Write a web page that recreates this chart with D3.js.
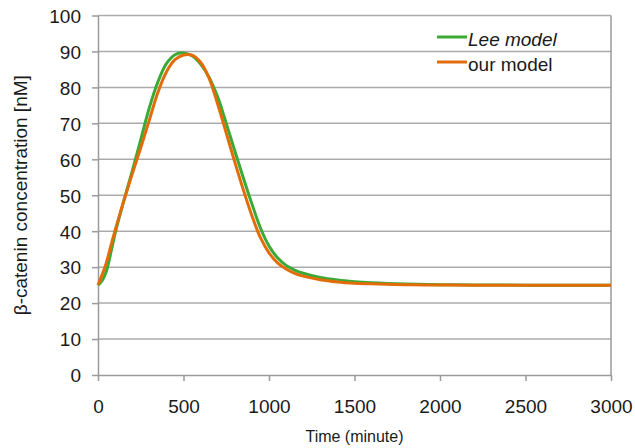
<!DOCTYPE html>
<html>
<head>
<meta charset="utf-8">
<script src="https://cdn.jsdelivr.net/npm/d3@7"></script>
<style>
  body { margin: 0; background: #fff; }
  svg { display: block; font-family: 'Liberation Sans', Arial, sans-serif; }
</style>
</head>
<body>
<div id="viz"></div>
<script>
const width = 635;
const height = 448;
const margin = {top: 15.5, right: 24, bottom: 73, left: 98};

// Data
const times = [0, 25, 50, 75, 100, 150, 200, 250, 300, 350, 400, 450, 500, 550, 600, 650, 700, 750, 800,
  850, 900, 950, 1000, 1050, 1100, 1150, 1200, 1300, 1400, 1500, 1600, 1800, 2000, 2200, 2500, 3000];
const leeModel = [25.0, 26.3, 29.0, 34.0, 39.4, 48.3, 56.7, 65.5, 74.3, 81.5, 86.6, 89.1, 89.6, 88.8, 86.5,
  82.8, 77.3, 70.0, 62.3, 54.8, 47.6, 40.9, 35.9, 32.6, 30.5, 29.2, 28.3, 27.1, 26.4, 25.95, 25.65, 25.3, 25.12, 25.05, 25.0, 25.0];
const ourModel = [25.0, 28.0, 31.4, 35.9, 40.2, 48.3, 55.9, 63.2, 70.9, 78.6, 84.3, 87.7, 89.0, 89.0, 87.0,
  82.5, 75.3, 67.3, 59.2, 51.5, 44.3, 38.2, 34.0, 31.2, 29.5, 28.3, 27.5, 26.5, 25.9, 25.55, 25.35, 25.12, 25.04, 25.0, 25.0, 25.0];
const xTicks = [0, 500, 1000, 1500, 2000, 2500, 3000];
const yTicks = [0, 10, 20, 30, 40, 50, 60, 70, 80, 90, 100];

const series = [
  {name: 'Lee model', values: leeModel, color: '#3aaa35', italic: true},
  {name: 'our model', values: ourModel, color: '#e36c0a', italic: false}
];

const svg = d3.select('#viz')
  .append('svg')
    .attr('width', width)
    .attr('height', height);

const xScale = d3.scaleLinear()
  .domain([0, 3000])
  .range([margin.left, width - margin.right]);
const yScale = d3.scaleLinear()
  .domain([0, 100])
  .range([height - margin.bottom, margin.top]);

// Gridlines
svg.append('g')
    .attr('class', 'grid')
  .selectAll('line')
  .data(yTicks.filter(d => d > 0))
  .join('line')
    .attr('x1', margin.left)
    .attr('x2', width - margin.right)
    .attr('y1', d => yScale(d))
    .attr('y2', d => yScale(d))
    .attr('stroke', '#ababab')
    .attr('stroke-width', 1.5);

// Right border of plot area
svg.append('line')
  .attr('x1', width - margin.right)
  .attr('x2', width - margin.right)
  .attr('y1', margin.top)
  .attr('y2', height - margin.bottom)
  .attr('stroke', '#9a9a9a')
  .attr('stroke-width', 1.5);

// Axes
const xAxis = d3.axisBottom(xScale)
  .tickValues(xTicks)
  .tickFormat(d3.format('d'))
  .tickSize(6)
  .tickPadding(19)
  .tickSizeOuter(0);
const xAxisGroup = svg.append('g')
    .attr('transform', `translate(0, ${height - margin.bottom})`)
    .style('font-size', '19px')
  .call(xAxis);

const yAxis = d3.axisLeft(yScale)
  .tickValues(yTicks)
  .tickSize(6)
  .tickPadding(11)
  .tickSizeOuter(0);
const yAxisGroup = svg.append('g')
    .attr('transform', `translate(${margin.left}, 0)`)
    .style('font-size', '19px')
  .call(yAxis);

[xAxisGroup, yAxisGroup].forEach(g => {
  g.attr('font-family', null);
  g.select('.domain').attr('stroke', '#9a9a9a').attr('stroke-width', 1.5);
  g.selectAll('.tick line').attr('stroke', '#9a9a9a').attr('stroke-width', 1.5);
  g.selectAll('.tick text').attr('fill', '#1a1a1a');
});
yAxisGroup.selectAll('.tick text').attr('dy', '0.36em');

// Axis titles
svg.append('text')
  .attr('x', (margin.left + width - margin.right) / 2)
  .attr('y', 442)
  .attr('text-anchor', 'middle')
  .attr('fill', '#1a1a1a')
  .style('font-size', '16px')
  .text('Time (minute)');

svg.append('text')
  .attr('transform', `translate(27, ${(margin.top + height - margin.bottom) / 2}) rotate(-90)`)
  .attr('text-anchor', 'middle')
  .attr('fill', '#1a1a1a')
  .style('font-size', '19px')
  .text('β-catenin concentration [nM]');

// Lines
const lineGenerator = d3.line()
  .x((d, i) => xScale(times[i]))
  .y(d => yScale(d))
  .curve(d3.curveCatmullRom.alpha(0.5));

svg.append('g')
    .attr('class', 'lines')
  .selectAll('path')
  .data(series)
  .join('path')
    .attr('d', d => lineGenerator(d.values))
    .attr('fill', 'none')
    .attr('stroke', d => d.color)
    .attr('stroke-width', 3);

// Legend
const legend = svg.append('g')
    .attr('transform', 'translate(437, 37)');
const legendItems = legend.selectAll('g')
  .data(series)
  .join('g')
    .attr('transform', (d, i) => `translate(0, ${i * 25})`);
legendItems.append('line')
  .attr('x1', 0)
  .attr('x2', 30)
  .attr('stroke', d => d.color)
  .attr('stroke-width', 3);
legendItems.append('text')
  .attr('x', 31)
  .attr('y', 9)
  .attr('fill', '#1a1a1a')
  .style('font-size', '19px')
  .style('font-style', d => d.italic ? 'italic' : 'normal')
  .text(d => d.name);
</script>
</body>
</html>
